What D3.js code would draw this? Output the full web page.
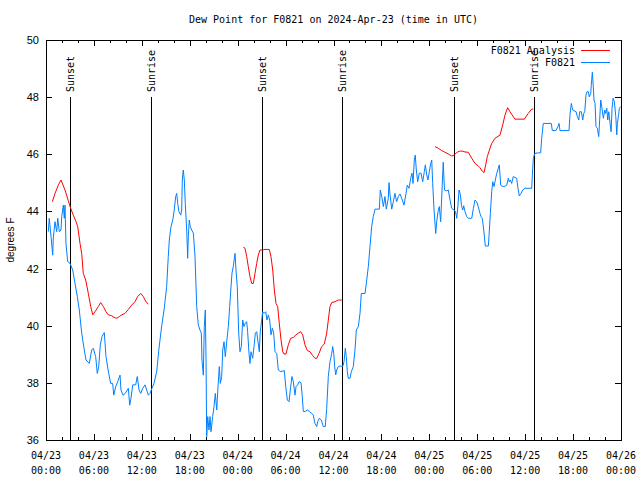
<!DOCTYPE html>
<html>
<head>
<meta charset="utf-8">
<script src="https://cdn.jsdelivr.net/npm/d3@7"></script>
<style>
  body { margin: 0; background: #fff; }
  svg { display: block; }
  .mono { font-family: "DejaVu Sans Mono", monospace; font-size: 10px; }
  .sans { font-family: "Liberation Sans", Arial, sans-serif; }
</style>
</head>
<body>
<svg id="chart" width="640" height="480"></svg>
<script>
// hours after 2024-04-23 00:00 UTC, dew point in degrees F
const blueHours = [0.29,0.41,0.63,0.84,0.91,1.13,1.34,1.47,1.67,1.88,1.97,2.17,2.29,2.38,2.50,2.72,3.01,3.34,3.63,3.92,4.17,4.47,4.76,5.01,5.42,5.72,5.92,6.22,6.42,6.60,6.80,7.01,7.30,7.51,7.85,8.10,8.35,8.48,8.73,8.98,9.27,9.39,9.64,9.93,10.18,10.31,10.48,10.64,10.86,11.23,11.43,11.65,11.86,12.11,12.40,12.61,12.81,13.02,13.27,13.52,13.86,14.15,14.49,14.78,15.11,15.31,15.44,15.65,15.87,16.03,16.24,16.37,16.49,16.65,16.87,16.99,17.07,17.19,17.32,17.44,17.62,17.74,17.82,17.94,18.07,18.24,18.45,18.66,18.87,19.07,19.28,19.45,19.53,19.70,19.82,19.95,20.04,20.12,20.25,20.41,20.54,20.66,20.87,21.04,21.20,21.38,21.54,21.70,21.83,22.00,22.13,22.29,22.45,22.63,22.83,23.00,23.17,23.29,23.45,23.67,23.79,23.95,24.13,24.29,24.46,24.63,24.79,24.96,25.13,25.25,25.42,25.54,25.67,25.88,26.05,26.21,26.38,26.55,26.71,26.83,27.01,27.13,27.30,27.51,27.67,27.84,28.01,28.17,28.34,28.51,28.68,28.89,29.09,29.39,29.84,30.02,30.22,30.43,30.64,30.80,30.97,31.18,31.31,31.52,31.68,31.93,32.09,32.22,32.47,32.72,32.97,33.27,33.47,33.68,33.90,34.02,34.22,34.47,34.72,34.97,35.15,35.35,35.56,35.78,35.90,36.03,36.15,36.28,36.40,36.60,36.90,37.15,37.32,37.48,37.60,37.73,37.85,38.07,38.23,38.48,38.69,38.86,39.11,39.32,39.48,39.95,40.16,40.36,40.57,40.78,40.98,41.20,41.74,41.86,42.04,42.24,42.45,42.61,42.86,42.95,43.08,43.29,43.49,43.70,43.91,44.11,44.33,44.54,44.83,45.08,45.24,45.45,45.67,45.83,45.96,46.12,46.24,46.37,46.54,46.74,46.96,47.17,47.37,47.50,47.67,47.83,48.00,48.17,48.30,48.42,48.59,48.80,48.92,49.09,49.25,49.42,49.59,49.74,49.90,50.18,50.38,50.59,50.80,51.09,51.28,51.43,51.58,51.72,51.88,52.03,52.18,52.30,52.47,52.68,52.88,53.31,53.51,53.72,53.93,54.13,54.34,54.47,54.63,54.81,55.01,55.39,55.47,55.64,55.81,55.94,56.10,56.26,56.44,56.64,56.76,56.94,57.14,57.48,57.69,57.89,58.01,58.14,58.31,58.51,58.94,59.10,59.27,59.48,59.69,59.98,60.82,60.90,61.02,61.20,61.64,61.94,62.07,62.27,63.27,63.40,63.86,64.11,64.24,64.36,65.49,65.61,65.78,65.95,66.37,66.53,66.71,66.83,67.03,67.21,67.33,67.46,67.62,67.74,67.91,68.03,68.21,68.28,68.41,68.53,68.62,68.75,68.87,69.04,69.21,69.34,69.46,69.62,69.79,69.97,70.09,70.22,70.34,70.47,70.63,70.76,70.88,71.01,71.17,71.35,71.47,71.55,71.67,71.80,71.97]
const blueTemps = [43.29,43.76,43.12,42.47,43.07,43.64,43.29,43.76,43.29,43.35,43.82,44.22,43.76,44.22,42.88,42.24,42.18,41.95,41.48,41.02,40.55,39.74,39.21,38.80,38.68,39.15,39.21,38.92,38.33,38.57,39.33,39.62,39.76,38.92,38.33,37.98,37.98,37.57,37.87,38.04,38.27,37.75,37.57,37.63,37.75,37.81,37.22,37.46,37.93,37.93,38.22,37.75,37.63,37.81,37.93,37.75,37.57,37.63,37.81,37.98,38.39,39.21,40.00,40.55,41.37,42.42,43.00,43.47,43.70,43.99,44.52,44.63,44.28,43.99,43.87,44.05,45.10,45.45,45.10,44.28,43.35,42.36,43.12,43.70,43.47,43.35,43.24,42.42,40.67,40.03,39.85,39.74,38.80,38.27,39.97,40.55,38.80,36.12,36.82,36.35,36.82,36.29,36.82,37.17,37.63,37.05,37.87,38.57,37.98,38.22,39.15,39.44,38.92,39.44,39.97,40.67,41.37,41.84,42.07,42.53,41.95,41.37,39.74,39.09,39.27,40.20,39.97,40.09,40.14,39.79,39.03,38.68,39.09,38.86,39.27,39.74,39.79,39.44,39.09,39.79,40.20,40.49,40.43,40.49,40.20,40.38,40.20,39.68,39.91,39.74,39.09,39.03,38.45,38.39,38.43,37.87,37.40,37.34,37.87,38.22,38.04,37.57,37.87,37.93,38.04,38.01,37.52,37.00,37.00,37.05,37.00,36.93,36.87,36.58,36.47,36.64,36.76,36.70,36.47,36.47,37.11,38.22,38.74,39.03,39.27,39.03,38.57,38.28,38.45,38.57,38.59,38.57,38.74,39.21,38.92,38.39,38.16,38.16,38.39,38.57,39.15,39.85,39.97,40.43,41.13,41.13,41.60,42.07,42.77,43.47,43.82,44.08,44.08,44.75,44.52,44.17,44.52,44.08,44.46,45.01,44.58,44.08,44.34,44.63,44.34,44.52,44.61,44.46,44.22,44.63,44.92,44.81,45.16,45.34,44.98,45.80,45.97,45.45,45.04,45.34,45.34,45.04,45.39,45.63,45.28,45.10,45.39,45.68,45.80,44.98,44.05,43.23,43.64,43.99,44.17,43.64,44.75,45.72,44.75,44.72,44.75,44.40,44.11,44.05,43.99,43.76,44.20,44.75,44.60,44.20,44.05,44.20,43.99,43.82,43.76,43.76,44.10,44.40,44.34,44.16,43.93,43.82,43.76,43.35,42.79,42.79,43.12,43.93,44.69,45.04,44.87,45.10,45.33,45.51,45.63,44.92,44.88,44.88,44.92,45.16,45.04,45.10,44.98,45.22,45.16,44.81,44.54,44.63,44.75,44.81,44.81,45.28,45.86,46.03,46.05,46.05,46.56,47.08,47.08,46.83,46.83,46.97,47.08,46.83,46.83,47.38,47.78,47.55,47.49,47.32,47.20,47.49,47.49,47.20,47.43,47.49,48.08,48.19,48.19,48.01,48.13,48.43,48.87,48.37,47.90,47.78,46.97,46.91,46.62,47.26,47.90,47.61,47.26,47.55,47.43,47.61,47.20,47.49,47.08,46.79,47.61,47.96,47.84,47.32,46.68,47.08,47.32,47.61,47.67]

// analysis series, null marks a gap
const redHours = [0.79,1.13,1.54,1.88,2.38,2.79,3.09,3.42,3.76,3.97,4.26,4.47,4.67,4.97,5.30,5.60,5.85,6.14,6.55,6.85,7.18,7.51,7.80,8.23,8.51,8.85,9.18,9.48,9.89,10.31,10.73,11.14,11.48,11.86,12.18,12.52,12.81,
  null,
  24.71,24.92,25.13,25.33,25.54,25.76,25.96,26.17,26.38,26.58,26.80,27.13,27.42,27.96,28.17,28.39,28.59,28.80,29.01,29.21,29.43,29.64,29.80,30.05,30.34,30.64,30.97,31.30,31.59,31.89,32.14,32.43,32.72,33.06,33.35,33.68,33.90,34.19,34.52,34.85,35.15,35.35,35.56,35.78,36.19,36.60,37.03,
  null,
  48.71,49.12,49.55,49.96,50.38,50.80,51.09,51.43,51.75,52.18,52.47,52.88,53.31,53.72,54.13,54.34,54.63,54.85,55.06,55.26,55.60,55.81,56.22,56.85,57.19,57.48,57.81,58.10,58.72,59.89,60.39,60.81,61.02]
const redTemps = [44.34,44.63,44.92,45.10,44.75,44.38,44.11,43.87,43.64,43.47,42.88,42.53,41.83,41.60,41.13,40.67,40.38,40.49,40.67,40.81,40.67,40.49,40.38,40.35,40.29,40.26,40.32,40.38,40.43,40.57,40.72,40.84,41.02,41.13,41.02,40.84,40.75,
  null,
  42.74,42.71,42.42,42.07,41.72,41.48,41.48,41.83,42.18,42.47,42.65,42.65,42.67,42.67,42.42,41.95,41.25,40.78,40.67,40.09,39.50,39.09,39.01,39.01,39.33,39.56,39.59,39.68,39.74,39.79,39.68,39.33,39.13,39.09,38.97,38.86,38.86,39.03,39.27,39.36,39.74,40.20,40.67,40.81,40.84,40.90,40.90,
  null,
  46.27,46.21,46.13,46.07,46.01,45.94,45.97,46.06,46.11,46.11,46.08,46.07,45.86,45.68,45.59,45.53,45.41,45.36,45.63,45.92,46.21,46.38,46.56,46.67,47.03,47.38,47.63,47.49,47.23,47.23,47.43,47.58,47.58]

const sunLabels = ['Sunset','Sunrise','Sunset','Sunrise','Sunset','Sunrise']
const sunHours = [3.04,13.19,27.08,37.10,51.13,61.14]

const yTicks = [36,38,40,42,44,46,48,50]
const seriesNames = ['F0821 Analysis','F0821']
const seriesColors = ['#ff0000','#0080ff']

const t0 = Date.UTC(2024,3,23)
const toDate = h => new Date(t0 + h*3600e3)

const margin = {top: 40, right: 19, bottom: 40, left: 46}
const width = 640, height = 480

const svg = d3.select('#chart')

// x scale
const x = d3.scaleUtc()
  .domain([toDate(0), toDate(72)])
  .range([margin.left, width - margin.right])

// y scale
const y = d3.scaleLinear()
  .domain([36, 50])
  .range([height - margin.bottom, margin.top])

const x0 = margin.left, x1 = width - margin.right
const y0 = height - margin.bottom, y1 = margin.top

// title
svg.append('text')
  .attr('class','mono')
  .attr('x', (x0 + x1)/2).attr('y', 23)
  .attr('text-anchor','middle')
  .text('Dew Point for F0821 on 2024-Apr-23 (time in UTC)')

// ticks, inward on all four sides
const ticks = svg.append('g').attr('stroke','#000').attr('shape-rendering','crispEdges')
const minorTimes = d3.utcHour.every(2).range(toDate(0), toDate(72.01))
minorTimes.forEach(d => {
  const major = d.getUTCHours() % 6 === 0
  const len = major ? 6 : 3
  const xx = Math.round(x(d)) + 0.5
  ticks.append('line').attr('x1',xx).attr('x2',xx).attr('y1',y0).attr('y2',y0-len)
  ticks.append('line').attr('x1',xx).attr('x2',xx).attr('y1',y1).attr('y2',y1+len)
})
yTicks.forEach(v => {
  const yy = Math.round(y(v)) + 0.5
  ticks.append('line').attr('x1',x0).attr('x2',x0+6).attr('y1',yy).attr('y2',yy)
  ticks.append('line').attr('x1',x1).attr('x2',x1-6).attr('y1',yy).attr('y2',yy)
})

// x tick labels
const fmtDay = d3.utcFormat('%m/%d'), fmtHour = d3.utcFormat('%H:%M')
const xl = svg.append('g').attr('class','mono').attr('text-anchor','middle')
  .selectAll('text')
  .data(d3.utcHour.every(6).range(toDate(0), toDate(72.01)))
  .join('text')
    .attr('x', d => x(d))
xl.append('tspan').attr('x', d => x(d)).attr('y', 459).text(d => fmtDay(d))
xl.append('tspan').attr('x', d => x(d)).attr('y', 474).text(d => fmtHour(d))

// y tick labels
svg.append('g').attr('class','sans').attr('font-size',11).attr('text-anchor','end')
  .selectAll('text')
  .data(yTicks)
  .join('text')
    .attr('x', 39)
    .attr('y', d => y(d) + 4)
    .text(d => d)

svg.append('text')
  .attr('class','sans').attr('font-size',10)
  .attr('text-anchor','middle')
  .attr('transform','translate(14,240) rotate(-90)')
  .text('degrees F')

// sunrise / sunset lines
const sun = svg.append('g')
sunHours.forEach((h,i) => {
  const xx = Math.round(x(toDate(h))) + 0.5
  sun.append('line')
    .attr('x1',xx).attr('x2',xx).attr('y1',97).attr('y2',y0)
    .attr('stroke','#000').attr('shape-rendering','crispEdges')
  sun.append('text')
    .attr('class','mono')
    .attr('text-anchor','start')
    .attr('transform','translate(' + (xx+3.5) + ',92) rotate(-90)')
    .text(sunLabels[i])
})

// data lines
const line = d3.line()
  .defined(d => d[0] !== null)
  .x(d => x(toDate(d[0])))
  .y(d => y(d[1]))

const redData = redHours.map((h,i) => [h, redTemps[i]])
const blueData = blueHours.map((h,i) => [h, blueTemps[i]])

svg.append('path')
  .datum(blueData)
  .attr('fill','none').attr('stroke',seriesColors[1]).attr('stroke-width',1)
  .attr('d', line)

svg.append('path')
  .datum(redData)
  .attr('fill','none').attr('stroke',seriesColors[0]).attr('stroke-width',1)
  .attr('d', line)

// border
svg.append('rect')
  .attr('x', x0 + 0.5).attr('y', y1 + 0.5)
  .attr('width', x1 - x0).attr('height', y0 - y1)
  .attr('fill','none').attr('stroke','#000').attr('shape-rendering','crispEdges')

// legend
const legend = svg.append('g')
seriesNames.forEach((name,i) => {
  const ly = 49.5 + i*12.5
  legend.append('text')
    .attr('class','mono').attr('text-anchor','end')
    .attr('x', 575).attr('y', ly + 4)
    .text(name)
  legend.append('line')
    .attr('x1',581).attr('x2',610).attr('y1',Math.round(ly)+0.5).attr('y2',Math.round(ly)+0.5)
    .attr('stroke',seriesColors[i]).attr('shape-rendering','crispEdges')
})
</script>
</body>
</html>
